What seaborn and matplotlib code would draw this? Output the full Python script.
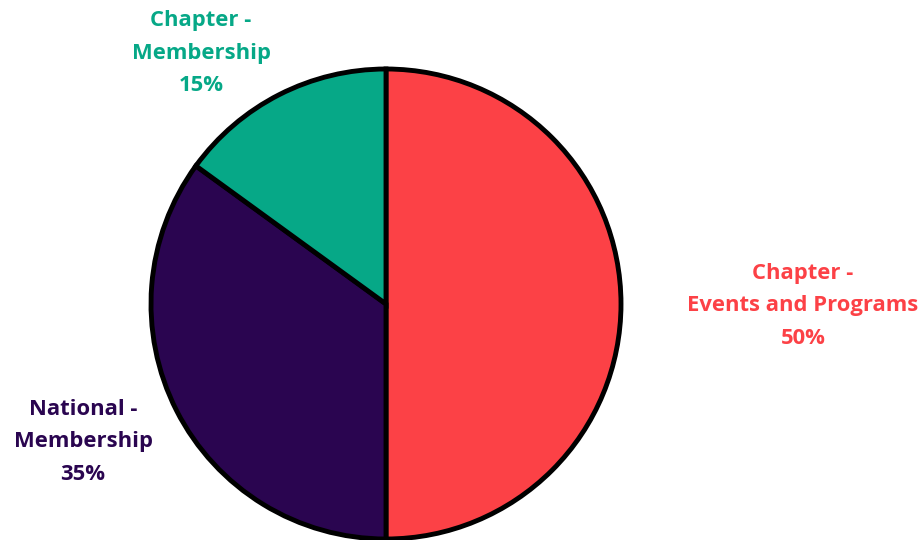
import matplotlib
matplotlib.use("Agg")
import matplotlib.pyplot as plt
import seaborn as sns

categories = ["Chapter -\nEvents and Programs", "National -\nMembership", "Chapter -\nMembership"]
values = [50, 35, 15]
colors = ["#FC4146", "#2A0550", "#06A887"]

sns.set_theme(style="white")
plt.rcParams['font.family'] = ['Open Sans', 'DejaVu Sans']

fig = plt.figure(figsize=(9.24, 5.4), dpi=100)
ax = fig.add_axes([151/924, 1/540, 470/924, 470/540])
palette = sns.color_palette(colors)
ax.pie(values, colors=palette, startangle=90, counterclock=False, radius=1.0,
       wedgeprops=dict(edgecolor="black", linewidth=3.5))
ax.set_xlim(-1.0, 1.0)
ax.set_ylim(-1.0, 1.0)
ax.set_aspect('equal')
ax.axis('off')

label_pos = [(803, 306), (83, 442), (201, 53)]
for cat, val, col, (px, py) in zip(categories, values, colors, label_pos):
    fig.text(px/924, 1 - py/540, f"{cat}\n{val}%", ha="center", va="center",
             color=col, fontsize=15.8, fontweight="bold", linespacing=1.72)

fig.savefig("out.png", dpi=100)
